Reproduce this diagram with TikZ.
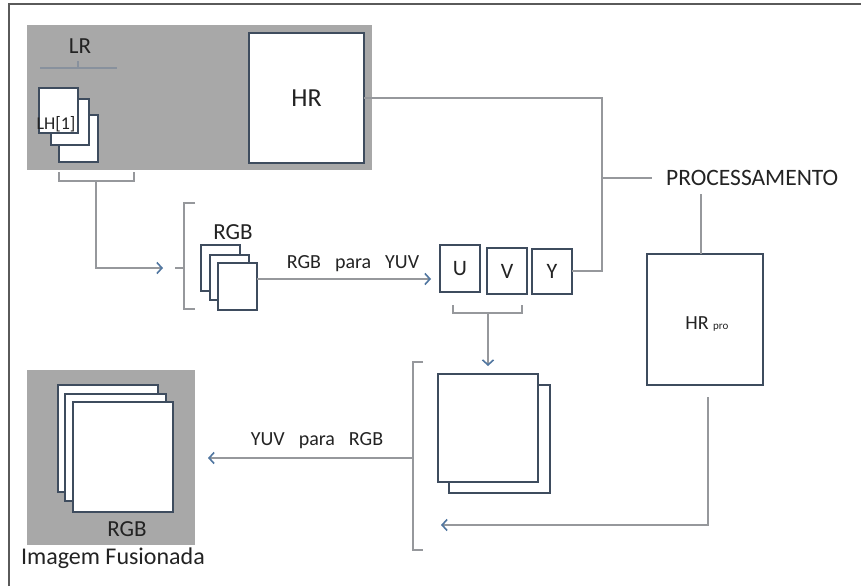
\documentclass[tikz,border=0pt]{standalone}
\usepackage{fontspec}
\setmainfont{Carlito}
\usetikzlibrary{arrows.meta}
\definecolor{panelgray}{RGB}{168,168,168}
\definecolor{boxc}{RGB}{62,76,94}
\definecolor{linec}{RGB}{150,152,156}
\definecolor{arrowc}{RGB}{80,118,160}
\definecolor{txtc}{RGB}{35,35,35}
\definecolor{framec}{RGB}{90,90,90}
\tikzset{
  panel/.style={fill=panelgray, draw=none, inner sep=0pt, outer sep=0pt, anchor=north west},
  pbox/.style={draw=boxc, line width=1.8pt, fill=white, inner sep=0pt, outer sep=0pt, anchor=north west},
  conn/.style={draw=linec, line width=1.3pt},
  arr/.style={conn, -{Straight Barb[length=5pt,width=11pt,line width=1.6pt,color=arrowc]}},
  lbl/.style={text=txtc, inner sep=0pt},
}
\newcommand{\fs}[1]{\fontsize{#1}{#1}\selectfont}
\begin{document}
\begin{tikzpicture}[x=1pt,y=-1pt]
\useasboundingbox (0,0) rectangle (861,586);
\fill[white] (0,0) rectangle (861,586);
% frame
\draw[framec, line width=1.2pt] (9,586) -- (9,4) -- (861,4);
% top panel
\node[panel, minimum width=345pt, minimum height=145pt] (toppanel) at (27,25) {};
\node[pbox, minimum width=115pt, minimum height=130pt] (hr) at (249,33) {};
\node[lbl, font=\fs{26}] at (hr.center) {HR};
% LR
\node[lbl, font=\fs{23}] (lr) at (80,46) {LR};
\coordinate (lrl) at (40,68);
\coordinate (lrr) at (117,68);
\draw[conn, draw=linec!80!arrowc] (lrl) -- (lrr);
\draw[conn, draw=linec!80!arrowc] (78,68) -- (78,61);
\node[pbox, minimum width=39pt, minimum height=47pt] (lh3) at (59,115) {};
\node[pbox, minimum width=38pt, minimum height=46pt] (lh2) at (51,99) {};
\node[pbox, minimum width=39pt, minimum height=45pt] (lh1) at (39,88) {};
\node[lbl, font=\fs{18}] (lhtext) at (56,124) {LH[1]};
% bracket under LR stack
\coordinate (bl1) at (59,172);
\coordinate (bl2) at (134,172);
\draw[conn] (bl1) -- (59,181) -- (134,181) -- (bl2);
\coordinate (bmid) at (96,181);
\coordinate (a1end) at (163,268);
\draw[arr] (bmid) -- (96,268) -- (a1end);
% RGB bracket
\draw[conn] (195,203) -- (184,203) -- (184,309) -- (195,309);
\draw[conn] (175,268) -- (184,268);
\node[lbl, font=\fs{23}] (rgbtxt) at (233,232) {RGB};
\node[pbox, minimum width=39pt, minimum height=46pt] (rgb1) at (201,245) {};
\node[pbox, minimum width=39pt, minimum height=45pt] (rgb2) at (210,255) {};
\node[pbox, minimum width=39pt, minimum height=47pt] (rgb3) at (218,263) {};
% U V Y
\node[pbox, minimum width=40pt, minimum height=47pt] (u) at (440,245) {};
\node[lbl, font=\fs{22}] at (u.center) {U};
\node[pbox, minimum width=40pt, minimum height=46pt] (v) at (487,248) {};
\node[lbl, font=\fs{22}] at (v.center) {V};
\node[pbox, minimum width=40pt, minimum height=45pt] (y) at (532,249) {};
\node[lbl, font=\fs{22}] at (y.center) {Y};
\coordinate (rgbarr) at (431,279);
\draw[arr] (rgb3.east |- rgbarr) -- (rgbarr);
\node[lbl, font=\fs{20}] (l1) at (353,264) {RGB\hspace{14pt}para\hspace{14pt}YUV};
% Y / HR to processing
\coordinate (junc) at (602,178);
\draw[conn] (y.east |- 0,271) -- (602,271) -- (602,98) -- (hr.east |- 0,98) -- (toppanel.east |- 0,98);
\coordinate (procl) at (652,178);
\draw[conn] (junc) -- (procl);
\node[lbl, font=\fs{23.5}, anchor=west] (proc) at (666,178) {PROCESSAMENTO};
% HR pro
\node[pbox, minimum width=116pt, minimum height=131pt] (hrpro) at (647,254) {};
\draw[conn] (701,194) -- (hrpro.north -| 701,0);
\node[lbl, font=\fs{20}] (hrprot) at (697,323) {HR};
\node[lbl, font=\fs{11}, anchor=west] at (713,328) {pro};
% UV bracket
\draw[conn] (453,305) -- (453,313) -- (522,313) -- (522,305);
\coordinate (uvarr) at (488,366);
\draw[arr] (488,313) -- (uvarr);
% big stack
\node[pbox, minimum width=101pt, minimum height=108pt] (big2) at (449,385) {};
\node[pbox, minimum width=100pt, minimum height=108pt] (big1) at (438,374) {};
% big bracket
\draw[conn] (423,362) -- (413,362) -- (413,550) -- (423,550);
\coordinate (bbmid) at (405,458);
\draw[conn] (bbmid) -- (413,458);
\coordinate (outarr) at (208,458);
\draw[arr] (bbmid) -- (outarr);
\node[lbl, font=\fs{20}] (l2) at (317,441) {YUV\hspace{14pt}para\hspace{14pt}RGB};
% HR pro return
\coordinate (retarr) at (441,525);
\draw[arr] (hrpro.south -| 708,0) ++(0,12) -- (708,525) -- (retarr);
% bottom-left panel
\node[panel, minimum width=168pt, minimum height=175pt] (botpanel) at (27,370) {};
\node[pbox, minimum width=100pt, minimum height=107pt] (f1) at (58,385) {};
\node[pbox, minimum width=101pt, minimum height=107pt] (f2) at (65,394) {};
\node[pbox, minimum width=100pt, minimum height=110pt] (f3) at (73,402) {};
\node[lbl, font=\fs{23}] (rgbout) at (127,529) {RGB};
\node[lbl, font=\fs{24}] (fus) at (113,558) {Imagem Fusionada};
\end{tikzpicture}
\end{document}
